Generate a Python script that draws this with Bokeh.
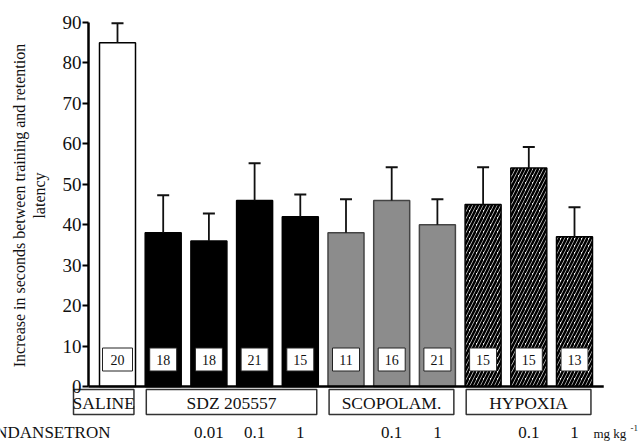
import numpy as np
from bokeh.plotting import figure
from bokeh.models import Range1d, FixedTicker, Whisker, TeeHead, ColumnDataSource
from bokeh.core.properties import value
from bokeh.embed import file_html
from bokeh.resources import INLINE

# ---------------- data ----------------
groups = ["SALINE", "SDZ 205557", "SCOPOLAM.", "HYPOXIA"]
group_sizes = [1, 4, 3, 3]
latency = [85, 38, 36, 46, 42, 38, 46, 40, 45, 54, 37]
sem = [4.8, 9.3, 6.8, 9.2, 5.5, 8.3, 8.2, 6.3, 9.2, 5.2, 7.3]
n_animals = ["20", "18", "18", "21", "15", "11", "16", "21", "15", "15", "13"]
ondansetron = ["", "", "0.01", "0.1", "1", "", "0.1", "1", "", "0.1", "1"]
y_ticks = [0, 10, 20, 30, 40, 50, 60, 70, 80, 90]

# ---------------- layout helpers (pixel -> data) ----------------
W, H = 644, 442
PITCH = 45.7      # px per bar slot
X0PX = 117        # px of first bar centre
Y0PX, Y90PX = 386, 22
PPU = (Y0PX - Y90PX) / 90.0

def X(px):
    return (px - X0PX) / PITCH

def Y(py):
    return (Y0PX - py) / PPU

FONT = value("Liberation Serif")

p = figure(width=W, height=H, output_backend="svg", toolbar_location=None,
           x_range=Range1d(X(0), X(W)), y_range=Range1d(Y(H), Y(0)),
           x_axis_type=None, min_border=0)
p.grid.visible = False
p.outline_line_color = None
p.background_fill_color = "white"
p.border_fill_color = "white"

# y axis
ax = p.yaxis[0]
ax.fixed_location = X(88)
ax.bounds = (0, 90)
ax.ticker = FixedTicker(ticks=y_ticks, minor_ticks=[])
ax.major_tick_out = 6
ax.major_tick_in = 0
ax.minor_tick_out = 0
ax.axis_line_width = 2.5
ax.major_tick_line_width = 2
ax.major_label_standoff = 1
ax.major_label_text_font = "Liberation Serif"
ax.major_label_text_font_size = "19px"
ax.major_label_text_color = "#111111"

idx = np.arange(len(latency))
lat = np.array(latency, dtype=float)
err = np.array(sem, dtype=float)

# group membership
grp_of = np.repeat(np.arange(len(groups)), group_sizes)
BW = 36 / PITCH

styles = [
    dict(fill_color="white", line_color="black", line_width=1.5),
    dict(fill_color="black", line_color="black", line_width=1.5),
    dict(fill_color="#8c8c8c", line_color="#444444", line_width=1.5),
    dict(fill_color="white", line_color="black", line_width=1.5,
         hatch_pattern="/", hatch_color="black", hatch_scale=7, hatch_weight=2.6),
]
for g, st in enumerate(styles):
    m = grp_of == g
    p.vbar(x=idx[m], top=lat[m], bottom=0, width=BW, **st)

# error bars (upper only)
wsrc = ColumnDataSource(dict(x=idx, lo=lat, hi=lat + err))
p.add_layout(Whisker(source=wsrc, base="x", lower="lo", upper="hi",
                     lower_head=None,
                     upper_head=TeeHead(size=12, line_width=2, line_color="#111111"),
                     line_width=1.8, line_color="#111111", level="glyph"))

# n boxes
box_w = [30 if g == 0 else 27 for g in grp_of]
p.rect(x=idx, y=Y(359), width=box_w, height=23, width_units="screen",
       height_units="screen", fill_color="white", line_color="#222222", line_width=1)
p.text(x=idx, y=Y(359), text=n_animals, text_align="center", text_baseline="middle",
       text_font=FONT, text_font_size="14px", text_color="#111111")

# baseline
p.segment(x0=[X(88)], x1=[idx[-1] + 0.64], y0=[0], y1=[0], line_width=2.5, line_color="black")

# group boxes below the axis
starts = np.concatenate([[0], np.cumsum(group_sizes)[:-1]])
ends = np.cumsum(group_sizes) - 1
lefts = starts - 0.37
rights = ends + 0.36
lefts[0] = X(73)
p.quad(left=lefts, right=rights, top=Y(389), bottom=Y(414), fill_color="white",
       line_color="#333333", line_width=1.5)
p.text(x=(lefts + rights) / 2, y=Y(402), text=groups, text_align="center",
       text_baseline="middle", text_font=FONT, text_font_size="17.5px", text_color="#111111")

# ondansetron doses
p.text(x=[X(110)], y=[Y(432)], text=["ONDANSETRON"], text_align="right",
       text_baseline="middle", text_font=FONT, text_font_size="17px", text_color="#111111")
p.text(x=idx, y=Y(432), text=ondansetron, text_align="center", text_baseline="middle",
       text_font=FONT, text_font_size="17px", text_color="#111111")
p.text(x=[X(593)], y=[Y(433)], text=["mg kg"], text_align="left", text_baseline="middle",
       text_font=FONT, text_font_size="13px", text_color="#111111")
p.text(x=[X(630)], y=[Y(427)], text=["-1"], text_align="left", text_baseline="middle",
       text_font=FONT, text_font_size="9px", text_color="#111111")

# y axis title (two lines)
p.text(x=[X(19)], y=[Y(203)], text=["Increase in seconds between  training and retention"],
       angle=np.pi / 2, text_align="center", text_baseline="middle",
       text_font=FONT, text_font_size="16px", text_color="#111111")
p.text(x=[X(39)], y=[Y(195)], text=["latency"],
       angle=np.pi / 2, text_align="center", text_baseline="middle",
       text_font=FONT, text_font_size="16px", text_color="#111111")

open("out.html", "w").write(file_html(p, INLINE))
